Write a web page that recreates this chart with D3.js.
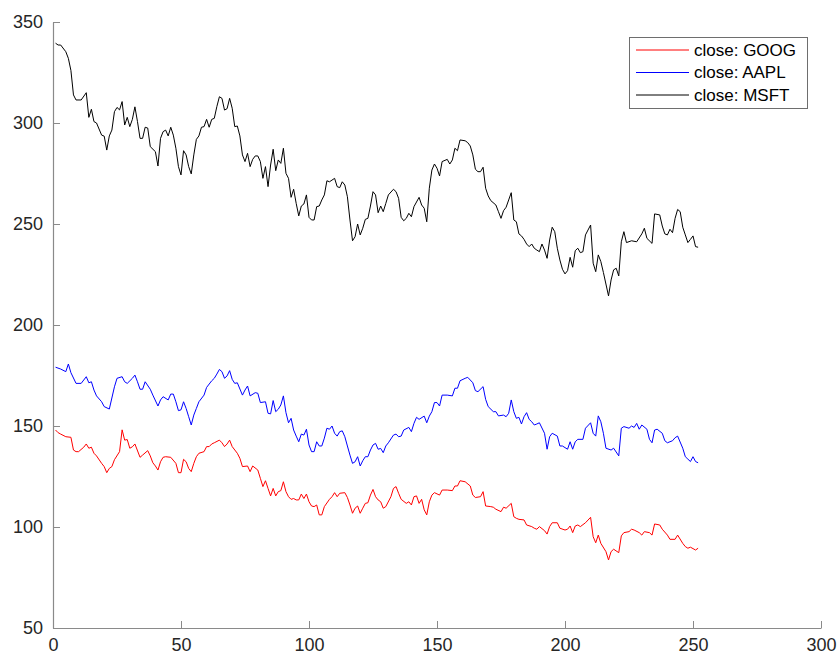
<!DOCTYPE html>
<html>
<head>
<meta charset="utf-8">
<script src="https://cdn.jsdelivr.net/npm/d3@7"></script>
<style>
  body { margin: 0; background: #fff; }
  svg text { font-family: "Liberation Sans", Arial, Helvetica, sans-serif; }
</style>
</head>
<body>
<div id="chart"></div>
<script>
// values (trading day index, close price)
const msftDays = [1,2,3,5,6,7,8,9,11,13,14,15,16,17,19,20,21,22,23,24,25,26,27,28,29,30,31,32,33,34,35,36,37,38,40,41,42,43,44,45,46,47,48,49,50,51,52,53,54,55,56,57,58,59,60,61,62,63,64,65,66,67,68,69,70,71,72,73,74,75,76,77,78,79,80,81,82,83,84,85,86,87,88,89,90,91,92,93,94,95,96,97,98,99,100,101,102,103,104,105,106,107,108,110,111,112,113,114,115,116,117,118,119,120,121,122,123,124,125,126,127,128,129,130,131,133,134,135,136,137,138,139,140,141,143,144,145,146,147,148,149,150,151,152,154,155,156,157,158,159,161,162,163,164,165,166,167,168,169,170,171,173,174,175,176,177,178,179,180,181,182,183,184,185,186,187,188,189,190,191,192,193,194,195,196,197,198,199,200,201,202,203,204,205,206,207,208,210,211,212,213,214,215,217,218,219,220,221,222,223,224,226,228,230,231,232,234,235,237,238,239,240,241,242,243,244,245,246,247,248,249,250,251,252];
const msftClose = [339.5,338.6,338.6,335.3,332,326,313.9,311.4,311.4,315,302.8,306.8,300.7,300,294,293.5,286.6,293.6,296.5,305.6,307.7,306.5,310.6,299,302.8,298.2,301.8,308,300.7,292.4,292.4,297.9,297.5,288.3,285.8,278.7,292.4,295.7,296.5,293.6,297.9,294,287.5,278.4,274.3,286.3,284.2,278.4,274.8,284.2,291.9,293.6,297.9,298.2,301.8,297.9,301.8,302.3,308.1,313,312.2,306.4,307.1,312.2,307.3,298.2,298.5,293.6,284.2,280.9,285,278.4,282,283.7,283.7,280.9,272.6,278.4,268.5,279.2,287,276.4,281.7,280,287.5,275.1,272.6,263.2,267.2,260.2,254,258.9,259.9,264.4,253.3,252,252,258.6,258.9,261.9,264.4,271.4,270.9,272.6,268.5,268,270.9,269.3,263.5,252,241.7,243.7,250,244.6,247.9,252.3,252.8,258.9,266,264.4,255.6,258.9,256.1,260.2,264.4,267.2,266,262.7,253.3,251.6,252.8,255.3,253.6,258.6,263.2,259.4,257.8,251.1,267.7,276.7,279.7,277.6,273.8,280.9,282,279.7,281.7,287.5,286.3,291.6,291.2,290.3,288.6,284.2,277.1,275.9,275.9,278.1,267.7,263.9,261.6,259.4,256.1,252.8,256.6,258.3,261.9,265.5,252,251.1,245.1,244.1,242.4,240.1,238.8,240.1,238,237.1,236.3,240.1,237.1,233,242.1,248.4,246.2,238,232.2,227.6,225.3,226.9,233.5,228.6,236.8,238,235.8,236.3,244.6,249.5,230.6,226.4,234.7,231.4,226,214.4,222.3,227.3,228.1,224.3,241.2,246.2,240.8,241.7,241.2,245.1,247.9,242.9,240.4,255,254.5,249,245.1,244.6,247.4,245.7,252.8,257.2,256.1,248.4,244.6,240.8,242.4,244.1,238.8,238.5];

const aaplDays = [1,3,5,6,7,9,11,13,14,15,16,17,19,20,22,24,25,27,28,29,31,32,33,34,35,36,38,39,41,42,43,45,46,47,48,49,50,51,52,53,54,55,56,57,59,60,62,63,64,65,66,67,68,69,70,71,72,74,75,76,77,79,80,81,83,84,85,86,87,88,89,90,91,92,93,94,95,96,97,98,99,100,101,102,103,104,105,106,107,108,109,110,111,112,113,114,115,116,117,118,119,120,121,122,123,124,125,126,127,128,129,130,131,133,134,135,136,137,139,140,141,142,143,145,146,147,148,149,150,151,152,154,156,157,158,159,161,162,164,165,166,168,169,170,172,173,174,176,177,178,179,180,181,182,183,184,185,186,187,188,189,190,192,193,194,195,197,198,199,201,202,203,204,205,207,208,210,211,212,213,214,215,216,218,219,221,222,223,225,226,227,228,229,230,232,233,234,235,236,238,239,240,242,243,244,246,247,248,249,250,251,252];
const aaplClose = [179.1,178.2,176.9,180.7,176.4,171.1,171.1,174.4,171.4,171.9,167.8,164.9,162,159.6,158.4,169.4,173.6,174.4,171.9,171.1,173.6,175.2,171.9,168.2,168.2,171.9,168.2,165.3,159.9,162.9,164.5,162.9,165.8,165.8,162,157.6,158,162,158.7,154.6,150.5,155.4,158.7,162,165.3,169.1,172.4,173.6,175.7,178,176.9,173.6,174.8,177.4,173.1,171.1,171.4,165.3,167.8,169.8,164.9,166.5,166.2,161.6,162,156.3,156,162.6,157.1,158.3,160.4,164.9,156.6,151.6,153.8,148,145,142.2,146,145.5,148.4,140.6,137.3,137.3,142.2,140.1,140.1,144,148.9,148.4,150,146.4,145,147.2,147.6,144.7,140.1,135.6,131.5,132.3,134.8,130.2,132.8,134.8,134.8,138.1,140.6,141.4,138.5,138.9,136.8,140.1,141.7,145.5,146,144.7,145,148,149.3,147.2,151.3,154.3,153.3,154.9,151.6,154.9,157.1,161.6,161.6,159.9,165.3,165.3,164.9,168.7,168.7,172.4,173.6,174.1,171.4,167.5,167,169.5,163.2,159.6,157.1,157.1,155,155.4,154.6,156.3,162.9,157.1,153.8,154.3,151,154.6,156.6,153.3,152.1,150.5,151,151.6,146.4,138.5,144.7,146.4,145,140.1,140.1,138.5,142.2,138.5,142.2,143.4,143.4,148.9,151.6,146.4,145,155,152.1,146.4,139,138.1,139,135.2,148.9,149.7,148.9,150,149.3,151.3,148.4,150.5,148.4,143.4,141.7,148,148.4,146.4,142.7,141.7,142.7,144.2,145,139,134.8,133.6,132.4,134.8,132.4,131.8];

const googDays = [1,2,3,5,7,8,9,10,12,13,14,15,16,17,19,20,21,22,23,24,26,27,28,29,30,31,32,34,35,37,38,39,40,41,42,43,44,46,48,49,50,51,52,53,54,55,56,57,59,60,61,62,63,65,66,67,68,69,70,72,73,74,76,77,78,80,81,82,83,84,85,86,87,88,89,90,91,92,93,94,95,96,97,98,99,100,101,102,103,104,105,106,108,109,110,111,112,114,115,116,117,118,119,120,121,122,123,124,125,126,127,128,129,130,132,133,134,135,136,138,139,140,141,142,143,144,145,146,147,148,149,151,152,154,156,157,158,159,161,163,164,165,167,168,169,171,172,173,175,176,177,179,180,181,182,184,185,187,188,189,190,192,193,194,195,197,198,200,201,202,203,204,205,206,208,210,211,212,213,214,216,217,218,219,221,222,223,225,226,227,229,230,231,233,234,235,237,238,240,241,243,244,246,247,248,249,251,252];
const googClose = [148,146.7,146,144.7,144.4,138.1,137.3,137.3,139.5,141.1,139,139.5,136.5,135.2,131.5,129.9,126.9,129,129.9,133.3,137.3,148.1,143,143.3,139,139.7,141.1,134.5,135.6,137.8,135.2,131.8,130.2,128.2,132.3,134.5,134.8,134.5,131.5,126.9,126.9,133.5,132.3,129,127.4,131.5,134.8,136.5,137.3,139.8,139.8,141.1,141.7,143,141.7,139.8,141.1,143,139.8,136.5,134,129.9,130.2,127.4,130.2,128.2,124.1,120,122.9,119.1,115.4,119.1,115.4,117.5,118,122.4,117.5,115,113.7,114.1,113.4,113.4,116.3,114.1,116.3,112.5,110.4,110.1,110.9,106,106,110.1,113.7,115,117,115,116.7,117,114.6,110.9,106.8,109.3,110.4,106.8,109.3,111.7,112,115.8,118.6,115,113.4,112.5,109.3,110.1,115,119.1,120,116.7,113.7,111.7,112.5,110.9,115,115.4,111.7,113.7,108.5,106,112.5,115.8,117,115.8,118.3,118.3,118,120.3,120.3,122.9,122.4,120.3,115.8,114.6,115,117.5,110.4,110.1,109.8,108.8,107.6,109.8,109.3,111.7,105.1,104.3,103.8,103.5,101,100.2,99.4,98.9,100.2,98.2,96.5,100.2,102.1,102.1,99.4,98.5,98.9,100.5,97.2,100.5,101,100.2,102.1,104.8,95.2,92.2,96,91.9,87.8,83.7,87.8,89,87.3,95.6,97.2,97.7,98.9,98.5,97.2,96,97.7,97.2,96,101.5,101,98.9,96,93.9,93.9,96,91.9,90.3,89.5,90,88.6,89.5];

const seriesNames = ["close: GOOG", "close: AAPL", "close: MSFT"];
const seriesColors = ["#ff0000", "#0000ff", "#000000"];
const xTicks = [0, 50, 100, 150, 200, 250, 300];
const yTicks = [50, 100, 150, 200, 250, 300, 350];

const width = 837, height = 655;
const margin = {top: 22, right: 16, bottom: 27, left: 53};

const svg = d3.select("#chart").append("svg")
    .attr("width", width)
    .attr("height", height);

const x = d3.scaleLinear().domain([0, 300]).range([margin.left, width - margin.right]);
const y = d3.scaleLinear().domain([50, 350]).range([height - margin.bottom, margin.top]);

// axes, ticks pointing inward like matlab
const xAxis = svg.append("g")
    .attr("transform", `translate(0,${height - margin.bottom})`)
    .call(d3.axisBottom(x).tickValues(xTicks).tickSizeInner(-7).tickSizeOuter(0).tickPadding(10));
const yAxis = svg.append("g")
    .attr("transform", `translate(${margin.left},0)`)
    .call(d3.axisLeft(y).tickValues(yTicks).tickSizeInner(-7).tickSizeOuter(0).tickPadding(10));

[xAxis, yAxis].forEach(g => {
    g.select(".domain").attr("stroke", "#8a8a8a").attr("stroke-width", 1.2);
    g.selectAll(".tick line").attr("stroke", "#8a8a8a");
    g.selectAll(".tick text").attr("fill", "#262626").style("font-size", "18px");
});

const data = [
    googDays.map((d, i) => [d, googClose[i]]),
    aaplDays.map((d, i) => [d, aaplClose[i]]),
    msftDays.map((d, i) => [d, msftClose[i]])
];

const line = d3.line().x(d => x(d[0])).y(d => y(d[1]));

svg.append("g").selectAll("path")
    .data(data)
    .join("path")
    .attr("fill", "none")
    .attr("stroke", (d, i) => seriesColors[i])
    .attr("stroke-width", 1)
    .attr("stroke-linejoin", "round")
    .attr("d", line);

// legend
const legend = svg.append("g").attr("transform", "translate(629,37)");
legend.append("rect")
    .attr("x", 0.5).attr("y", 0.5)
    .attr("width", 178).attr("height", 71)
    .attr("fill", "#fff")
    .attr("stroke", "#6e6e6e");

const rows = legend.selectAll(".row")
    .data(seriesNames)
    .join("g")
    .attr("class", "row")
    .attr("transform", (d, i) => `translate(0,${13 + i * 22.5})`);

rows.append("line")
    .attr("x1", 7).attr("x2", 60)
    .attr("stroke", (d, i) => seriesColors[i])
    .attr("stroke-width", 1);

rows.append("text")
    .attr("x", 65)
    .attr("dy", "0.35em")
    .attr("fill", "#000")
    .style("font-size", "17px")
    .text(d => d);
</script>
